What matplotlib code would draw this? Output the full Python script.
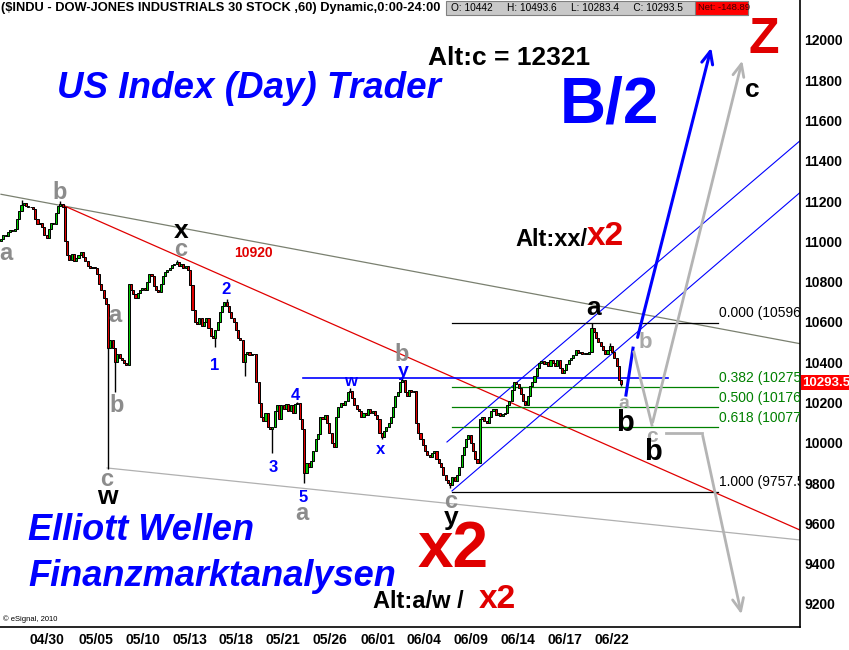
import numpy as np
import matplotlib.pyplot as plt
from matplotlib.patches import Rectangle

# hourly closes, 7 bars per trading day, 04/28 .. 06/22
closes = [
    11010, 11030, 11025, 11045, 11055, 11050, 11060,   # 04/28
    11110, 11150, 11180, 11190, 11175, 11170, 11170,   # 04/29
    11160, 11110, 11085, 11090, 11070, 11030, 11015,   # 04/30
    11060, 11090, 11085, 11140, 11175, 11185, 11170,   # 05/03
    11000, 10930, 10910, 10935, 10905, 10920, 10930,   # 05/04
    10945, 10925, 10905, 10880, 10870, 10875, 10870,   # 05/05
    10840, 10790, 10760, 10720, 10690, 10470, 10510,   # 05/06
    10470, 10400, 10440, 10420, 10410, 10395, 10385,   # 05/07
    10790, 10760, 10740, 10720, 10745, 10760, 10770,   # 05/10
    10760, 10800, 10840, 10830, 10780, 10760, 10750,   # 05/11
    10790, 10830, 10850, 10860, 10870, 10885, 10890,   # 05/12
    10900, 10880, 10890, 10870, 10880, 10860, 10785,   # 05/13
    10660, 10600, 10590, 10620, 10580, 10600, 10620,   # 05/14
    10570, 10530, 10520, 10560, 10600, 10650, 10680,   # 05/17
    10700, 10680, 10650, 10620, 10600, 10560, 10520,   # 05/18
    10510, 10400, 10440, 10450, 10435, 10440, 10440,   # 05/19
    10300, 10200, 10130, 10110, 10150, 10080, 10070,   # 05/20
    10080, 10160, 10190, 10120, 10190, 10170, 10195,   # 05/21
    10160, 10190, 10150, 10195, 10200, 10120, 10070,   # 05/24
    9850, 9900, 9880, 9910, 9960, 10020, 10045,        # 05/25
    10130, 10120, 10140, 10100, 10050, 10000, 9980,    # 05/26
    10130, 10180, 10200, 10190, 10210, 10250, 10255,   # 05/27
    10220, 10190, 10170, 10160, 10130, 10150, 10140,   # 05/28
    10170, 10150, 10160, 10140, 10120, 10050, 10030,   # 06/01
    10060, 10080, 10100, 10130, 10180, 10230, 10250,   # 06/02
    10300, 10310, 10250, 10230, 10260, 10250, 10255,   # 06/03
    10100, 10050, 10020, 9990, 9960, 9940, 9930,       # 06/04
    9950, 9960, 9920, 9900, 9880, 9840, 9815,          # 06/07
    9800, 9790, 9830, 9810, 9840, 9880, 9940,          # 06/08
    9980, 10020, 10040, 10000, 9960, 9920, 9900,       # 06/09
    10120, 10130, 10110, 10100, 10130, 10160, 10170,   # 06/10
    10140, 10150, 10135, 10145, 10150, 10190, 10210,   # 06/11
    10260, 10300, 10290, 10270, 10240, 10210, 10190,   # 06/14
    10230, 10280, 10300, 10330, 10370, 10395, 10404,   # 06/15
    10390, 10400, 10380, 10410, 10395, 10380, 10409,   # 06/16
    10370, 10345, 10360, 10390, 10410, 10420, 10434,   # 06/17
    10460, 10445, 10450, 10440, 10445, 10440, 10450,   # 06/18
    10570, 10550, 10520, 10500, 10480, 10460, 10442,   # 06/21
    10460, 10480, 10450, 10420, 10380, 10310, 10293.5, # 06/22
]
first_open = 11000
# visible wicks (bar index -> price)
wick_low = {47: 9870, 50: 10250, 94: 10476, 107: 10330, 119: 9950,
            133: 9800, 167: 10020, 197: 9775, 272: 10283.4}
wick_high = {9: 11205, 26: 11200, 77: 10910, 99: 10715, 130: 10205,
             153: 10270, 176: 10322, 259: 10594, 267: 10493.6}

date_labels = ['04/30', '05/05', '05/10', '05/13', '05/18', '05/21', '05/26',
               '06/01', '06/04', '06/09', '06/14', '06/17', '06/22']
date_pos = [20.2, 41.7, 62.3, 82.9, 103.1, 123.7, 144.3, 165.4, 185.5,
            206.1, 226.8, 247.4, 268.0]
yticks = list(range(9200, 12001, 200))

fib_ratio = ['0.000', '0.382', '0.500', '0.618', '1.000']
fib_price = [10596.3, 10275.9, 10176.9, 10077.9, 9757.5]
fib_color = ['black', '#008000', '#008000', '#008000', 'black']

last_price = 10293.5

W, H = 849, 650
fig = plt.figure(figsize=(W / 100, H / 100), dpi=100)
fig.patch.set_facecolor('white')
ax = fig.add_axes([0, 23 / H, 800 / W, 627 / H])

arial = ['Liberation Sans', 'DejaVu Sans']

def fx(x):
    return x / W

def fy(y):
    return 1 - y / H

# candles
c = np.array(closes, dtype=float)
o = np.concatenate([[first_open], c[:-1]])
xs = np.arange(len(c))
hi = np.maximum(o, c)
lo = np.minimum(o, c)
for k, v in wick_low.items():
    lo[k] = v
for k, v in wick_high.items():
    hi[k] = v
ax.vlines(xs, lo, hi, color='black', lw=1.0, zorder=3)
cols = np.where(c >= o, '#00c800', '#e00000')
ax.bar(xs, c - o, bottom=o, width=0.9, color=cols, edgecolor='black',
       linewidth=0.7, zorder=4)

# trend lines
ax.plot([0, 351], [11234, 10491], color='#7a8070', lw=0.9, zorder=2)
ax.plot([26, 351], [11185, 9564], color='#e00000', lw=0.9, zorder=2)
ax.plot([46.5, 351], [9875, 9517], color='#b0b0b0', lw=0.9, zorder=2)
ax.plot([132.5, 292.5], [10323, 10323], color='#0000ff', lw=1.2, zorder=2)
ax.plot([197.8, 351], [9761, 11248], color='#0000ff', lw=0.8, zorder=2)
ax.plot([195.6, 351], [10004, 11505], color='#0000ff', lw=0.8, zorder=2)

# fibonacci levels
for r, p, col in zip(fib_ratio, fib_price, fib_color):
    ax.plot([197.8, 314.5], [p, p], color=col, lw=0.9, zorder=2)
    ax.text(315, p + 12, '%s (%.1f)' % (r, p), color=col, fontsize=10,
            family=arial, ha='left', va='bottom', clip_on=True, zorder=5)

# projection paths
ax.plot([274.1, 277.2], [10237, 10470], color='#0000ff', lw=2.2, zorder=5)
ax.annotate('', xy=(311.8, 11975), xytext=(278.9, 10510),
            arrowprops=dict(arrowstyle='->,head_length=0.9,head_width=0.4',
                            color='#0000ff', lw=2.2), zorder=5)
ax.plot([277.6, 285.5], [10451, 10088], color='#b4b4b4', lw=2, zorder=5)
ax.annotate('', xy=(325.4, 11911), xytext=(285.5, 10088),
            arrowprops=dict(arrowstyle='->,head_length=0.9,head_width=0.4',
                            color='#b4b4b4', lw=2), zorder=5)
ax.plot([291.7, 307.5], [10049, 10049], color='#b4b4b4', lw=2, zorder=5)
ax.annotate('', xy=(325.0, 9135), xytext=(307.5, 10049),
            arrowprops=dict(arrowstyle='->,head_length=0.9,head_width=0.4',
                            color='#b4b4b4', lw=2), zorder=5)

ax.set_xlim(-0.44, 350.44)
ax.set_ylim(9085.4, 12198.6)
for s in ['left', 'top']:
    ax.spines[s].set_visible(False)
ax.spines['right'].set_linewidth(1.2)
ax.spines['bottom'].set_linewidth(1.2)
ax.yaxis.tick_right()
ax.set_yticks(yticks)
ax.set_yticklabels([str(t) for t in yticks], fontsize=10, fontweight='bold',
                   family=arial)
ax.set_xticks(date_pos)
ax.set_xticklabels(date_labels, fontsize=10, fontweight='bold', family=arial)
ax.tick_params(axis='both', length=0, pad=3)
ax.tick_params(axis='x', pad=4)

# wave labels (pixel centre, text, colour, size)
labels = [
    (6, 254, 'a', '#8c8c8c', 17), (60, 193, 'b', '#8c8c8c', 17),
    (181, 249, 'c', '#8c8c8c', 17), (181, 231, 'x', 'black', 19),
    (115, 316, 'a', '#8c8c8c', 17), (117, 405, 'b', '#8c8c8c', 17),
    (107, 479, 'c', '#8c8c8c', 17), (107, 497, 'w', 'black', 19),
    (302, 514, 'a', '#8c8c8c', 17), (402, 355, 'b', '#8c8c8c', 17),
    (451, 502, 'c', '#8c8c8c', 17), (451, 518, 'y', 'black', 19),
    (594, 308, 'a', 'black', 19), (645, 342, 'b', '#a8a8a8', 16),
    (624, 403, 'a', '#a8a8a8', 14), (625, 423, 'b', 'black', 21),
    (652, 437, 'c', '#a8a8a8', 15), (653, 452, 'b', 'black', 21),
    (752, 90, 'c', 'black', 19),
    (226, 290, '2', '#0000ff', 12), (215, 366, '1', '#0000ff', 12),
    (273, 468, '3', '#0000ff', 12), (295, 396, '4', '#0000ff', 12),
    (303, 497, '5', '#0000ff', 12), (350, 382, 'w', '#0000ff', 12),
    (381, 449, 'x', '#0000ff', 12), (403, 371, 'y', '#0000ff', 14),
    (253, 253, '10920', '#e00000', 10),
]
for x, y, t, col, fs in labels:
    fig.text(fx(x), fy(y), t, color=col, fontsize=fs, fontweight='bold',
             family=arial, ha='center', va='center')

big = dict(fontweight='bold', family=arial, va='center', ha='left')
fig.text(fx(57), fy(88), 'US Index (Day) Trader', color='#0000ff',
         fontsize=26.5, style='italic', **big)
fig.text(fx(28), fy(530), 'Elliott Wellen', color='#0000ff',
         fontsize=26, style='italic', **big)
fig.text(fx(28), fy(576), 'Finanzmarktanalysen', color='#0000ff',
         fontsize=26, style='italic', **big)
fig.text(fx(428), fy(58), 'Alt:c = 12321', color='black', fontsize=19, **big)
fig.text(fx(560), fy(105), 'B/2', color='#0000ff', fontsize=46, **big)
fig.text(fx(749), fy(40), 'Z', color='#e00000', fontsize=36, **big)
fig.text(fx(515), fy(240), 'Alt:xx/', color='black', fontsize=17, **big)
fig.text(fx(587), fy(237), 'x2', color='#e00000', fontsize=24, **big)
fig.text(fx(418), fy(550), 'x2', color='#e00000', fontsize=46, **big)
fig.text(fx(373), fy(601), 'Alt:a/w /', color='black', fontsize=17, **big)
fig.text(fx(479), fy(599), 'x2', color='#e00000', fontsize=24, **big)
fig.text(fx(3), fy(619), '\u00a9 eSignal, 2010', color='black', fontsize=5.5,
         family=arial, va='center', ha='left')

# header
fig.text(fx(1), fy(8), '($INDU - DOW-JONES INDUSTRIALS 30 STOCK ,60) Dynamic,0:00-24:00',
         fontsize=9.3, fontweight='bold', family=arial, va='center', ha='left')
fig.patches.append(Rectangle((fx(446), fy(15)), fx(302), 14 / H,
                             transform=fig.transFigure, facecolor='#c8c8c8',
                             edgecolor='#808080', lw=0.8))
fig.patches.append(Rectangle((fx(695), fy(15)), fx(53), 14 / H,
                             transform=fig.transFigure, facecolor='#ff0000',
                             edgecolor='#808080', lw=0.8))
fig.text(fx(451), fy(8), 'O: 10442     H: 10493.6     L: 10283.4     C: 10293.5',
         fontsize=7.3, family=arial, va='center', ha='left')
fig.text(fx(698), fy(8), 'Net: -148.89', fontsize=6.8, family=arial,
         color='#400000', va='center', ha='left')

# last price marker
fig.patches.append(Rectangle((fx(801), fy(390)), fx(48), 15 / H,
                             transform=fig.transFigure, facecolor='#ff0000',
                             edgecolor='none'))
fig.text(fx(802), fy(382.5), '%.1f' % last_price, color='white', fontsize=9.5,
         fontweight='bold', family=arial, va='center', ha='left')

fig.savefig('out.png', dpi=100)
